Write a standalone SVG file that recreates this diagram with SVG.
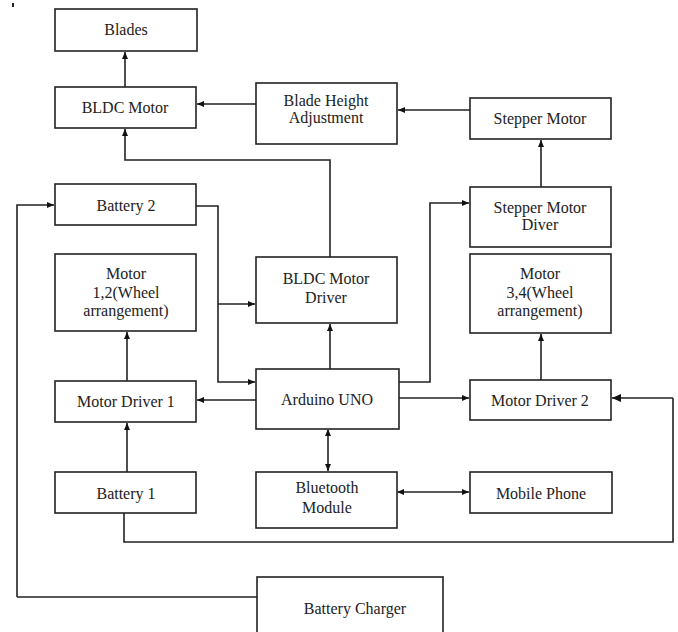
<svg xmlns="http://www.w3.org/2000/svg" width="678" height="632" viewBox="0 0 678 632">
<defs>
<marker id="ah" markerWidth="8" markerHeight="8" refX="7" refY="4" orient="auto" markerUnits="userSpaceOnUse">
<path d="M0,1 L7,4 L0,7 Z" fill="#111"/>
</marker>
<marker id="ahs" markerWidth="8" markerHeight="8" refX="1" refY="4" orient="auto" markerUnits="userSpaceOnUse">
<path d="M7,1 L0,4 L7,7 Z" fill="#111"/>
</marker>
<marker id="ahb" markerWidth="10" markerHeight="10" refX="9" refY="5" orient="auto" markerUnits="userSpaceOnUse">
<path d="M0,1 L9,5 L0,9 Z" fill="#111"/>
</marker>
</defs>
<style>
.box{fill:#fff;stroke:#222;stroke-width:1.6}
.t{font-family:'Liberation Serif','DejaVu Serif',serif;font-size:16px;fill:#222;text-anchor:middle}
.c{fill:none;stroke:#222;stroke-width:1.6}
.a{marker-end:url(#ah)}
</style>
<rect x="0" y="0" width="678" height="632" fill="#fff"/>
<rect x="12" y="3" width="2" height="4" fill="#222"/>
<g id="connectors">
<path class="c a" d="M125,87 V52"/>
<path class="c a" d="M256,104 H197"/>
<path class="c a" d="M470,110 H398"/>
<path class="c a" d="M330,257 V160 H125 V129"/>
<path class="c a" d="M541,187 V140"/>
<path class="c a" d="M17,597 V205 H54"/>
<path class="c" d="M17,597 H257"/>
<path class="c a" d="M196,206 H218 V382 H255"/>
<path class="c a" d="M218,304 H255"/>
<path class="c a" d="M330,369 V324"/>
<path class="c a" d="M397,382 H430 V203 H469"/>
<path class="c a" d="M256,400 H197"/>
<path class="c a" d="M127,381 V332"/>
<path class="c a" d="M127,472 V423"/>
<path class="c a" d="M399,398 H469"/>
<path class="c a" d="M541,380 V334"/>
<path class="c" d="M124,513 V542 H673 V398" />
<path class="c" d="M673,398 H612" marker-end="url(#ahb)"/>
<path class="c a" d="M328,430 V471" marker-start="url(#ahs)"/>
<path class="c a" d="M398,492 H469" marker-start="url(#ahs)"/>
</g>
<g id="blades"><rect class="box" x="55" y="9" width="142" height="42"/><text class="t" x="126" y="35">Blades</text></g>
<g id="bldc-motor"><rect class="box" x="55" y="87" width="141" height="41"/><text class="t" x="125" y="113">BLDC Motor</text></g>
<g id="blade-height"><rect class="box" x="256" y="83" width="141" height="61"/><text class="t" x="326" y="106">Blade Height</text><text class="t" x="326" y="123">Adjustment</text></g>
<g id="stepper-motor"><rect class="box" x="470" y="98" width="141" height="41"/><text class="t" x="540" y="124">Stepper Motor</text></g>
<g id="battery2"><rect class="box" x="55" y="184" width="141" height="41"/><text class="t" x="126" y="211">Battery 2</text></g>
<g id="stepper-driver"><rect class="box" x="470" y="187" width="141" height="60"/><text class="t" x="540" y="213">Stepper Motor</text><text class="t" x="540" y="230">Diver</text></g>
<g id="motor12"><rect class="box" x="55" y="254" width="141" height="77"/><text class="t" x="126" y="279">Motor</text><text class="t" x="126" y="298">1,2(Wheel</text><text class="t" x="126" y="316">arrangement)</text></g>
<g id="bldc-driver"><rect class="box" x="256" y="257" width="141" height="66"/><text class="t" x="326" y="284">BLDC Motor</text><text class="t" x="326" y="303">Driver</text></g>
<g id="motor34"><rect class="box" x="470" y="254" width="141" height="79"/><text class="t" x="540" y="279">Motor</text><text class="t" x="540" y="298">3,4(Wheel</text><text class="t" x="540" y="316">arrangement)</text></g>
<g id="motor-driver1"><rect class="box" x="55" y="381" width="141" height="41"/><text class="t" x="126" y="407">Motor Driver 1</text></g>
<g id="arduino"><rect class="box" x="256" y="369" width="143" height="60"/><text class="t" x="327" y="405">Arduino UNO</text></g>
<g id="motor-driver2"><rect class="box" x="470" y="380" width="141" height="40"/><text class="t" x="540" y="406">Motor Driver 2</text></g>
<g id="battery1"><rect class="box" x="55" y="472" width="141" height="41"/><text class="t" x="126" y="499">Battery 1</text></g>
<g id="bluetooth"><rect class="box" x="256" y="472" width="141" height="56"/><text class="t" x="327" y="493">Bluetooth</text><text class="t" x="327" y="513">Module</text></g>
<g id="mobile"><rect class="box" x="470" y="472" width="142" height="41"/><text class="t" x="541" y="499">Mobile Phone</text></g>
<g id="charger"><rect class="box" x="257" y="577" width="186" height="60"/><text class="t" x="355" y="614">Battery Charger</text></g>
</svg>
